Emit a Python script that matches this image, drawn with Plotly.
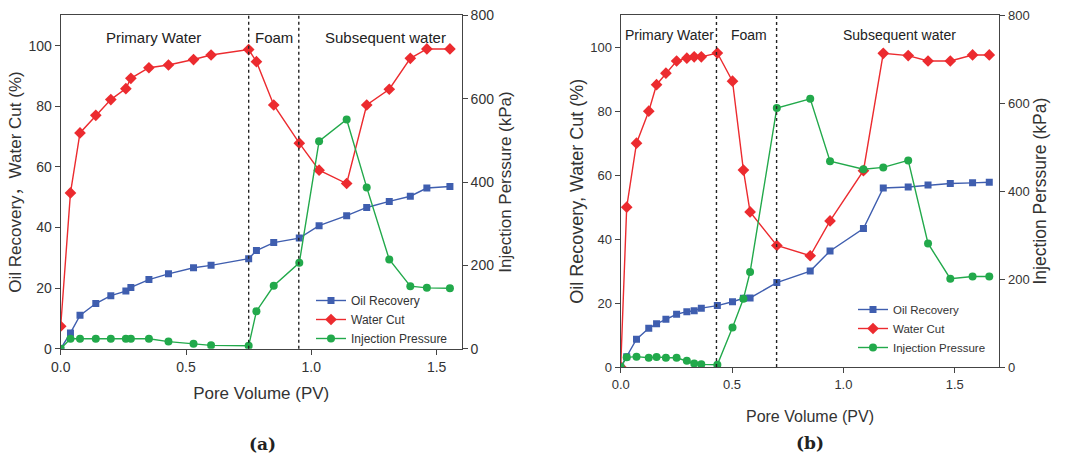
import plotly.graph_objects as go

# ---------------- Panel (a) data ----------------
pv_a = [0.0, 0.039, 0.077, 0.14, 0.2, 0.26, 0.28, 0.352, 0.43, 0.53, 0.6, 0.75,
        0.781, 0.85, 0.952, 1.031, 1.141, 1.221, 1.311, 1.395, 1.461, 1.553]
oil_a = [0.0, 5.2, 11.0, 14.9, 17.5, 19.0, 20.2, 22.8, 24.7, 26.7, 27.5, 29.7,
         32.4, 35.0, 36.5, 40.6, 43.9, 46.6, 48.6, 50.3, 53.0, 53.5]
wc_a = [7.4, 51.4, 71.2, 77.0, 82.2, 85.8, 89.2, 92.7, 93.6, 95.4, 96.9, 98.7,
        94.7, 80.4, 67.8, 58.9, 54.5, 80.4, 85.6, 95.8, 98.9, 98.9]
pres_a = [0, 24, 24, 24, 24, 24, 24, 24, 17, 12, 8, 7,
          90, 151, 206, 498, 550, 387, 214, 150, 146, 145]
phase_a = [0.75, 0.95]

# ---------------- Panel (b) data ----------------
pv_b = [0.0, 0.027, 0.071, 0.126, 0.161, 0.203, 0.251, 0.297, 0.33, 0.362, 0.434,
        0.502, 0.551, 0.581, 0.701, 0.851, 0.94, 1.09, 1.179, 1.291, 1.38, 1.48,
        1.58, 1.655]
oil_b = [0.0, 3.2, 8.7, 12.1, 13.5, 14.9, 16.5, 17.3, 17.6, 18.4, 19.2,
         20.4, 21.5, 21.6, 26.4, 30.0, 36.3, 43.3, 56.0, 56.3, 56.9, 57.4,
         57.6, 57.8]
wc_b = [0.0, 50.0, 70.0, 80.0, 88.3, 91.9, 95.7, 96.6, 97.0, 97.0, 98.2,
        89.4, 61.6, 48.5, 38.0, 34.8, 45.7, 61.4, 98.1, 97.4, 95.7, 95.7,
        97.6, 97.6]
pres_b = [0, 22, 23.5, 21, 23, 21, 21, 14, 8, 6, 5,
          90, 155, 216, 589, 610, 468, 450, 454, 470, 281, 201,
          206, 206]
phase_b = [0.43, 0.70]

phase_labels = ["Primary Water", "Foam", "Subsequent water"]
label_x_a = [0.372, 0.85, 1.295]
label_x_b = [0.219, 0.574, 1.252]

x_tickvals = [0.0, 0.5, 1.0, 1.5]
x_ticktext = ["0.0", "0.5", "1.0", "1.5"]

BLUE = "#3f5eaf"
RED = "#ec2b2f"
GREEN = "#22a94b"
AX = "#444444"
FONT = "Liberation Sans, Arial, Noto Sans CJK SC, sans-serif"

fig = go.Figure()

def add_panel(pv, oil, wc, pres, xa, ya, ya2, legend):
    fig.add_trace(go.Scatter(x=pv, y=oil, name="Oil Recovery", mode="lines+markers",
                             line=dict(color=BLUE, width=1.4),
                             marker=dict(symbol="square", size=7, color=BLUE),
                             xaxis=xa, yaxis=ya, legend=legend))
    fig.add_trace(go.Scatter(x=pv, y=wc, name="Water Cut", mode="lines+markers",
                             line=dict(color=RED, width=1.4),
                             marker=dict(symbol="diamond", size=9, color=RED),
                             xaxis=xa, yaxis=ya, legend=legend))
    fig.add_trace(go.Scatter(x=pv, y=pres, name="Injection Pressure", mode="lines+markers",
                             line=dict(color=GREEN, width=1.4),
                             marker=dict(symbol="circle", size=8, color=GREEN),
                             xaxis=xa, yaxis=ya2, legend=legend))

add_panel(pv_a, oil_a, wc_a, pres_a, "x", "y", "y2", "legend")
add_panel(pv_b, oil_b, wc_b, pres_b, "x2", "y3", "y4", "legend2")

H = 457
def py(p):
    return 1 - p / H

dom_a_x = [60.7 / 1088, 461.7 / 1088]
dom_b_x = [620.7 / 1088, 999.3 / 1088]
dom_a_y = [py(348.7), py(15.3)]
dom_b_y = [py(367), py(15.3)]

def tf(size):
    return dict(family=FONT, size=size, color="#333")

def xax(**kw):
    d = dict(showline=True, linecolor=AX, linewidth=1.2, mirror=True, automargin=False,
             ticks="outside", ticklen=5, tickcolor=AX, showgrid=False, zeroline=False,
             tickmode="array", tickvals=x_tickvals, ticktext=x_ticktext)
    d.update(kw)
    return d

def yax(**kw):
    d = dict(showline=True, linecolor=AX, linewidth=1.2, automargin=False,
             ticks="outside", ticklen=5, tickcolor=AX, showgrid=False, zeroline=False)
    d.update(kw)
    return d

fig.update_layout(
    width=1088, height=457, margin=dict(l=0, r=0, t=0, b=0, autoexpand=False),
    paper_bgcolor="white", plot_bgcolor="white", showlegend=True,
    xaxis=xax(domain=dom_a_x, range=[0, 1.6], anchor="y", tickfont=tf(14),
              title=dict(text="Pore Volume (PV)", standoff=13, font=tf(17))),
    yaxis=yax(domain=dom_a_y, range=[0, 110], dtick=20, anchor="x", tickfont=tf(14),
              title=dict(text="Oil Recovery，Water Cut (%)", standoff=2, font=tf(17))),
    yaxis2=yax(range=[0, 800], dtick=200, overlaying="y", side="right", anchor="x",
               tickfont=tf(14),
               title=dict(text="Injection Perssure (kPa)", standoff=5, font=tf(17))),
    xaxis2=xax(domain=dom_b_x, range=[0, 1.7], anchor="y3", tickfont=tf(13),
               title=dict(text="Pore Volume (PV)", standoff=20, font=tf(16))),
    yaxis3=yax(domain=dom_b_y, range=[0, 110], dtick=20, anchor="x2", tickfont=tf(13),
               title=dict(text="Oil Recovery, Water Cut (%)", standoff=1, font=tf(18))),
    yaxis4=yax(range=[0, 800], dtick=200, overlaying="y3", side="right", anchor="x2",
               tickfont=tf(13),
               title=dict(text="Injection Perssure (kPa)", standoff=2, font=tf(17.5))),
    legend=dict(x=311 / 1088, y=py(286), xanchor="left", yanchor="top",
                bgcolor="rgba(0,0,0,0)", font=tf(12),
                itemwidth=30, tracegroupgap=0),
    legend2=dict(x=853 / 1088, y=py(295), xanchor="left", yanchor="top",
                 bgcolor="rgba(0,0,0,0)", font=tf(11.5),
                 itemwidth=30, tracegroupgap=0),
)

shapes = []
for xv in phase_a:
    shapes.append(dict(type="line", xref="x", yref="y domain", x0=xv, x1=xv, y0=0, y1=1,
                       line=dict(color="#222", width=1.4, dash="3px,3px")))
for xv in phase_b:
    shapes.append(dict(type="line", xref="x2", yref="y3 domain", x0=xv, x1=xv, y0=0, y1=1,
                       line=dict(color="#222", width=1.4, dash="3px,3px")))
fig.update_layout(shapes=shapes)

ann = []
for t, xv in zip(phase_labels, label_x_a):
    ann.append(dict(x=xv, y=102.6, xref="x", yref="y", text=t, showarrow=False,
                    font=dict(family=FONT, size=15, color="#222")))
for t, xv in zip(phase_labels, label_x_b):
    ann.append(dict(x=xv, y=103.8, xref="x2", yref="y3", text=t, showarrow=False,
                    font=dict(family=FONT, size=14, color="#222")))
ann.append(dict(x=262 / 1088, y=py(444), xref="paper", yref="paper", text="<b>(a)</b>",
                xanchor="center", yanchor="middle", showarrow=False,
                font=dict(family="DejaVu Serif, serif", size=17, color="#222")))
ann.append(dict(x=810 / 1088, y=py(443), xref="paper", yref="paper", text="<b>(b)</b>",
                xanchor="center", yanchor="middle", showarrow=False,
                font=dict(family="DejaVu Serif, serif", size=17, color="#222")))
fig.update_layout(annotations=ann)

fig.write_html("out.html")
